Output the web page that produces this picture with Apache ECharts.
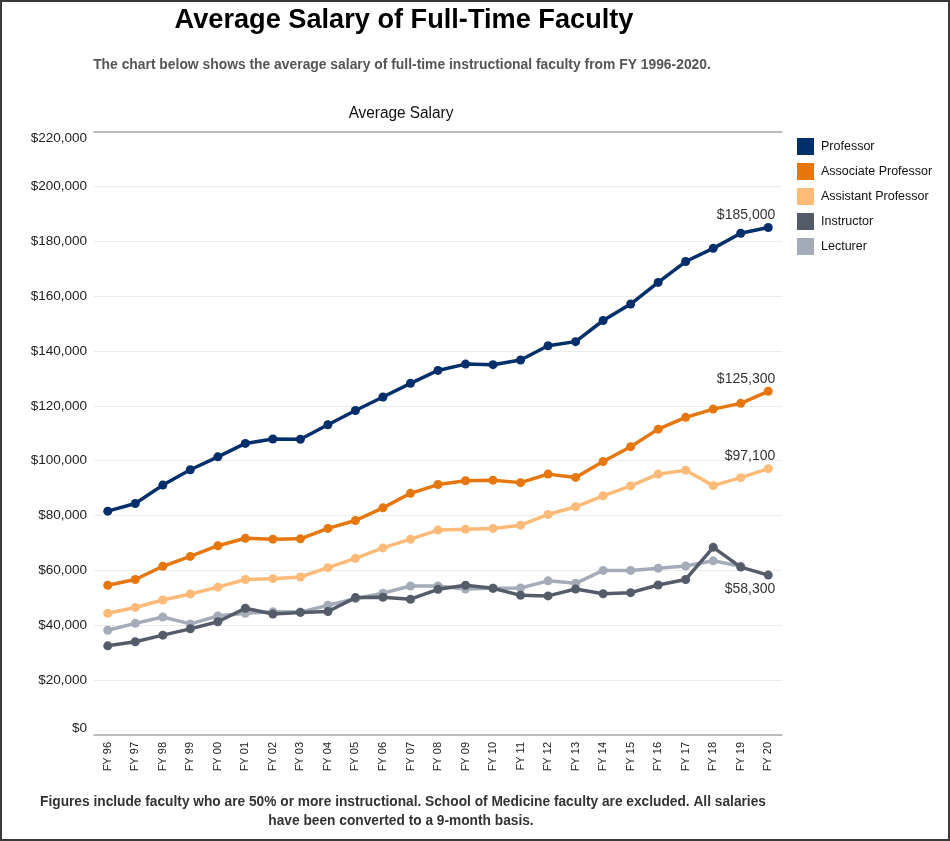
<!DOCTYPE html>
<html>
<head>
<meta charset="utf-8">
<title>Average Salary of Full-Time Faculty</title>
<script src="https://cdn.jsdelivr.net/npm/echarts@6.0.0/dist/echarts.min.js"></script>
<style>
  html, body { margin: 0; padding: 0; background: #fff; }
  #wrap { position: relative; width: 950px; height: 841px; }
  #chart { width: 950px; height: 841px; }
  #frame {
    position: absolute; left: 0; top: 0; width: 950px; height: 841px;
    box-sizing: border-box; border: 2px solid #3a3a3a; pointer-events: none;
  }
</style>
</head>
<body>
<div id="wrap">
  <div id="chart"></div>
  <div id="frame"></div>
</div>
<script>
let years = ["FY 96", "FY 97", "FY 98", "FY 99", "FY 00", "FY 01", "FY 02", "FY 03", "FY 04", "FY 05",
  "FY 06", "FY 07", "FY 08", "FY 09", "FY 10", "FY 11", "FY 12", "FY 13", "FY 14", "FY 15",
  "FY 16", "FY 17", "FY 18", "FY 19", "FY 20"];

let professor = [81600, 84400, 91100, 96700, 101400, 106300, 107900, 107800, 113100, 118300,
  123200, 128200, 132900, 135200, 135000, 136700, 141900, 143400, 151100, 157100,
  165000, 172600, 177400, 182900, 185000];
let associate = [54600, 56700, 61500, 65100, 69000, 71700, 71400, 71500, 75300, 78200,
  82800, 88100, 91300, 92700, 92900, 92000, 95100, 93900, 99700, 105100,
  111500, 115800, 118800, 120900, 125300];
let assistant = [44400, 46500, 49200, 51400, 53900, 56700, 57000, 57600, 61000, 64400,
  68200, 71400, 74700, 75000, 75300, 76500, 80400, 83200, 87200, 90800,
  95100, 96500, 90900, 93800, 97100];
let instructor = [32500, 34000, 36400, 38700, 41300, 46200, 44100, 44700, 45000, 50100,
  50200, 49500, 53100, 54600, 53500, 50900, 50700, 53200, 51500, 51900,
  54700, 56700, 68400, 61200, 58300];
let lecturer = [38200, 40700, 43000, 40500, 43400, 44400, 44900, 44800, 47300, 49700,
  51700, 54300, 54300, 53200, 53500, 53600, 56200, 55300, 60000, 60000,
  60800, 61600, 63500, 61500, null];

let seriesNames = ["Professor", "Associate Professor", "Assistant Professor", "Instructor", "Lecturer"];
let colors = ["#012f6b", "#e6770f", "#fdba78", "#555c69", "#a3acb8"];

function money(v) {
  return "$" + Math.round(v).toLocaleString("en-US");
}

// only the last point of a series carries a value label
function withEndLabel(arr, pos, dist) {
  return arr.map((v, i) => {
    if (i !== arr.length - 1) return v;
    return {
      value: v,
      label: {
        show: true,
        position: pos,
        align: "right",
        offset: [7, 0],
        distance: dist,
        formatter: (p) => money(p.value),
        color: "#333",
        fontSize: 14,
        fontFamily: "Liberation Sans",
      },
    };
  });
}

function lineSeries(name, data, color, z) {
  return {
    name: name,
    type: "line",
    data: data,
    z: z,
    symbol: "circle",
    symbolSize: 9,
    showSymbol: true,
    itemStyle: { color: color },
    lineStyle: { color: color, width: 3.5 },
    emphasis: { disabled: true },
    connectNulls: false,
  };
}

let chart = echarts.init(document.getElementById("chart"));
let sans = "'Liberation Sans', Arial, sans-serif";

// centred text block, squeezed a little to mimic the condensed face
function textBlock(str, x, y, font, fill, sx) {
  return {
    type: "text", x: x, y: y, scaleX: sx,
    style: {
      text: str, font: font, fill: fill,
      textAlign: "center", textVerticalAlign: "middle",
    },
  };
}

let option = {
  animation: false,
  backgroundColor: "#fff",
  color: colors,
  graphic: [
    textBlock("Average Salary of Full-Time Faculty", 404, 20, "bold 28px " + sans, "#000", 0.97),
    textBlock("The chart below shows the average salary of full-time instructional faculty from FY 1996-2020.",
      402, 65, "bold 14px " + sans, "#555", 0.99),
    textBlock("Average Salary", 401, 114, "16px " + sans, "#111", 0.96),
    textBlock("Figures include faculty who are 50% or more instructional. School of Medicine faculty are excluded. All salaries",
      403, 802, "bold 14px " + sans, "#333", 0.98),
    textBlock("have been converted to a 9-month basis.", 401, 821, "bold 14px " + sans, "#333", 0.98),
  ],
  legend: {
    orient: "vertical",
    left: 797,
    top: 138,
    padding: 0,
    icon: "rect",
    itemWidth: 17,
    itemHeight: 17,
    itemGap: 8,
    data: seriesNames,
    textStyle: {
      color: "#111",
      fontSize: 12.5,
      fontFamily: "Liberation Sans",
      padding: [0, 0, 0, 2],
    },
  },
  grid: {
    left: 94,
    right: 168,
    top: 131.5,
    bottom: 106,
    containLabel: false,
  },
  xAxis: [
    {
      type: "category",
      data: years,
      boundaryGap: true,
      axisTick: { show: false },
      axisLine: { show: true, lineStyle: { color: "#aaa", width: 1.5 } },
      axisLabel: {
        rotate: 90,
        margin: 7,
        interval: 0,
        color: "#222",
        fontSize: 11,
        fontFamily: "Liberation Sans",
      },
      splitLine: { show: false },
    },
    {
      type: "category",
      data: years,
      position: "top",
      boundaryGap: true,
      axisTick: { show: false },
      axisLabel: { show: false },
      axisLine: { show: true, lineStyle: { color: "#aaa", width: 1.5 } },
      splitLine: { show: false },
    },
  ],
  yAxis: {
    type: "value",
    min: 0,
    max: 220000,
    interval: 20000,
    axisLine: { show: false },
    axisTick: { show: false },
    axisLabel: {
      margin: 7,
      color: "#222",
      fontSize: 13.5,
      fontFamily: "Liberation Sans",
      formatter: (v) => money(v),
      verticalAlignMinLabel: "bottom",
      verticalAlignMaxLabel: "top",
    },
    splitLine: { lineStyle: { color: "#ebebeb", width: 1 } },
  },
  series: [
    lineSeries(seriesNames[0], withEndLabel(professor, "top", 1), colors[0], 5),
    lineSeries(seriesNames[1], withEndLabel(associate, "top", 1), colors[1], 4),
    lineSeries(seriesNames[2], withEndLabel(assistant, "top", 1), colors[2], 3),
    lineSeries(seriesNames[3], withEndLabel(instructor, "bottom", 3), colors[3], 2),
    lineSeries(seriesNames[4], lecturer, colors[4], 1),
  ],
};

option && chart.setOption(option);
</script>
</body>
</html>
